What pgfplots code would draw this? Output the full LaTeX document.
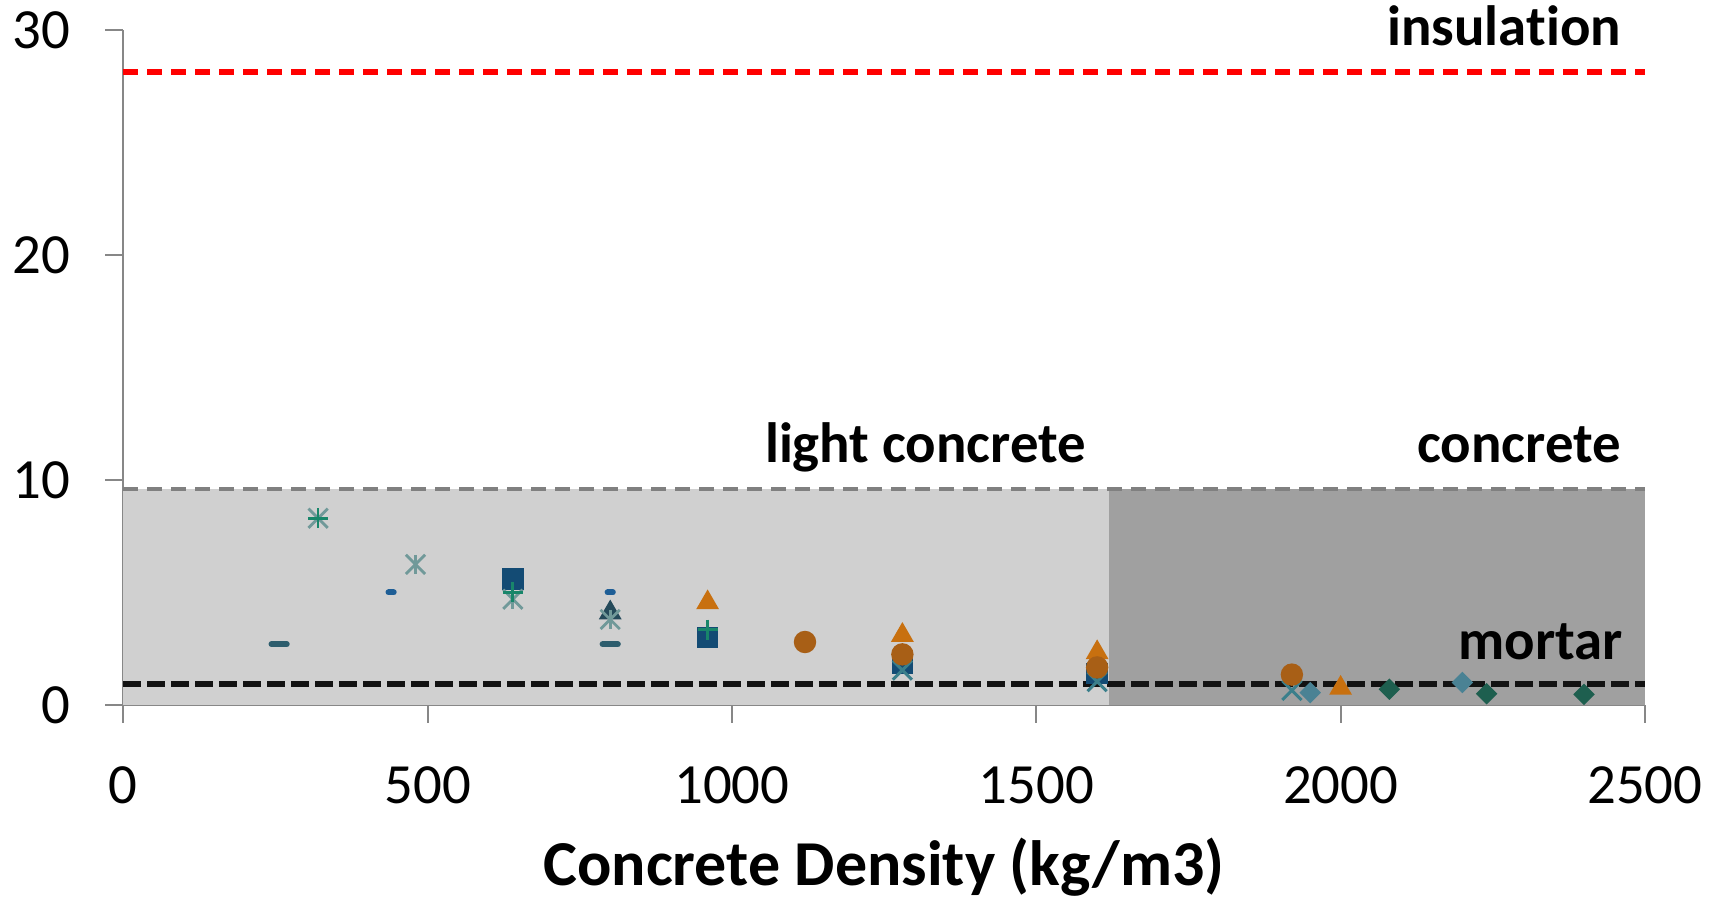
\documentclass[border=0pt]{standalone}
\usepackage{fontspec}
\setmainfont[Ligatures=NoCommon]{Carlito}
\usepackage{pgfplots}
\pgfplotsset{compat=1.18}
\definecolor{axisgray}{RGB}{135,135,135}
\definecolor{lightreg}{RGB}{208,208,208}
\definecolor{darkreg}{RGB}{160,160,160}
\definecolor{dashgray}{RGB}{128,128,128}
\definecolor{cnavy}{RGB}{19,75,116}
\definecolor{corange}{RGB}{200,112,15}
\definecolor{cbrown}{RGB}{168,95,22}
\definecolor{ctealx}{RGB}{59,127,139}
\definecolor{cgreen}{RGB}{24,134,106}
\definecolor{cgrayast}{RGB}{112,153,153}
\definecolor{cbluedash}{RGB}{30,94,150}
\definecolor{ctealdash}{RGB}{45,93,109}
\definecolor{cslate}{RGB}{36,74,90}
\definecolor{ctealdia}{RGB}{74,130,148}
\definecolor{cgreendia}{RGB}{30,95,79}
\begin{document}
\begin{tikzpicture}
\begin{axis}[
  at={(0,0)}, anchor=south west,
  scale only axis, width=380.4pt, height=168.75pt,
  xmin=0, xmax=2500, ymin=0, ymax=30,
  axis lines=left,
  axis line style={draw=axisgray, line width=0.5pt, -},
  tick align=outside, major tick length=4.5pt,
  tick style={draw=axisgray, line width=0.5pt},
  xtick={0,500,1000,1500,2000,2500}, ytick={0,10,20,30},
  clip=false,
  /pgf/number format/assume math mode=true,
  /pgf/number format/set thousands separator={},
  ticklabel style={font=\fontsize{14.2}{17}\selectfont},
  xticklabel style={anchor=north, yshift=-7.4pt},
  yticklabel style={anchor=east, xshift=-5.2pt},
  xlabel={Concrete Density (kg/m3)},
  xlabel style={at={(axis description cs:0.5,0)}, anchor=base, yshift=-45.2pt, font=\fontsize{16}{19}\selectfont\bfseries},
]
% regions
\addplot[fill=lightreg, draw=none] coordinates {(0,9.6) (1620,9.6)} \closedcycle;
\addplot[fill=darkreg, draw=none] coordinates {(1620,9.6) (2500,9.6)} \closedcycle;
\addplot[dashgray, line width=1.1pt, dash pattern=on 3.75pt off 2.25pt] coordinates {(0,9.6) (2500,9.6)};
\addplot[red, line width=1.5pt, dash pattern=on 3.75pt off 2.25pt] coordinates {(0,28.15) (2500,28.15)};
% series
\addplot[only marks, mark=square*, mark size=2.5pt, color=cnavy] coordinates {(640,5.6) (960,3.0) (1280,1.85) (1600,1.4)};
\addplot[only marks, mark=x, mark size=3.4pt, color=ctealx, line width=0.75pt] coordinates {(1280,1.55) (1600,1.04) (1920,0.65)};
\addplot[only marks, mark=triangle*, mark size=2.9pt, color=corange] coordinates {(960,4.55) (1280,3.1) (1600,2.33) (2000,0.75)};
\addplot[only marks, mark=*, mark size=2.6pt, color=cbrown] coordinates {(1120,2.8) (1280,2.25) (1600,1.67) (1920,1.35)};
\addplot[only marks, mark=triangle*, mark size=2.9pt, color=cslate] coordinates {(800,4.1)};
\addplot[only marks, mark=x, mark size=3.4pt, color=cgrayast, line width=0.7pt] coordinates {(320,8.3) (480,6.25) (640,4.7) (800,3.8)};
\addplot[only marks, mark=|, mark size=2.4pt, color=cgrayast, line width=0.7pt] coordinates {(320,8.3) (480,6.25) (640,4.7) (800,3.8)};
\addplot[only marks, mark=+, mark size=2.5pt, color=cgreen, line width=0.7pt] coordinates {(320,8.3) (640,5.0) (960,3.35)};
\addplot[only marks, mark=-, mark size=0.65pt, color=cbluedash, line width=1.5pt, mark options={line cap=round}] coordinates {(440,5.0) (800,5.0)};
\addplot[only marks, mark=-, mark size=1.9pt, color=ctealdash, line width=1.5pt, mark options={line cap=round}] coordinates {(256,2.7) (800,2.7)};
\addplot[only marks, mark=square*, mark size=1.7pt, color=ctealdia, mark options={rotate=45}] coordinates {(1950,0.55) (2200,1.0)};
\addplot[only marks, mark=square*, mark size=1.7pt, color=cgreendia, mark options={rotate=45}] coordinates {(2080,0.7) (2240,0.5) (2400,0.47)};
% mortar line
\addplot[black!93, line width=1.4pt, dash pattern=on 4.5pt off 1.5pt] coordinates {(0,0.92) (2500,0.92)};
% labels
\node[anchor=base east, inner sep=0pt, font=\fontsize{14.2}{17}\selectfont\bfseries] at (axis cs:2462,29.29) {insulation};
\node[anchor=base east, inner sep=0pt, font=\fontsize{14.2}{17}\selectfont\bfseries] at (axis cs:2462,10.76) {concrete};
\node[anchor=base east, inner sep=0pt, font=\fontsize{14.2}{17}\selectfont\bfseries] at (axis cs:1583,10.76) {light concrete};
\node[anchor=base east, inner sep=0pt, font=\fontsize{14.2}{17}\selectfont\bfseries] at (axis cs:2465,2.04) {mortar};
\end{axis}
\pgfresetboundingbox
\path[use as bounding box] (-30.83pt,-48pt) rectangle (400.42pt,176.25pt);
\end{tikzpicture}
\end{document}
